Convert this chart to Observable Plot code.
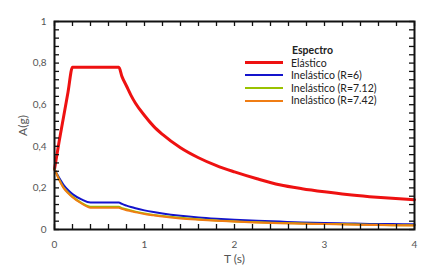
<!DOCTYPE html>
<html>
<head>
<meta charset="utf-8">
<script src="https://cdn.jsdelivr.net/npm/d3@7"></script>
<script src="https://cdn.jsdelivr.net/npm/@observablehq/plot@0.6"></script>
<style>
  body { margin: 0; background: #fff; font-family: Lato, "DejaVu Sans", sans-serif; }
  #wrap { position: relative; width: 431px; height: 274px; }
  #legend { position: absolute; left: 245px; top: 44px; font-size: 10.5px; color: #222; line-height: 12.6px; }
  #legend .title { font-weight: bold; margin-left: 47px; }
  #legend .row { display: flex; align-items: center; }
  #legend .sw { width: 38px; height: 0; margin-right: 8px; }
</style>
</head>
<body>
<div id="wrap"></div>
<script>
const periods = [0, 0.05, 0.1, 0.15, 0.2, 0.3, 0.4, 0.5, 0.6, 0.715, 0.75, 0.8, 0.85, 0.9, 1.0, 1.1, 1.2, 1.4, 1.6, 1.8, 2.0, 2.25, 2.5, 2.75, 3.0, 3.25, 3.5, 3.75, 4.0];
const elastico = [0.29, 0.42, 0.54, 0.66, 0.78, 0.78, 0.78, 0.78, 0.78, 0.78, 0.735, 0.69, 0.645, 0.607, 0.548, 0.497, 0.457, 0.393, 0.345, 0.307, 0.277, 0.244, 0.215, 0.196, 0.181, 0.168, 0.158, 0.15, 0.143];
const inelasticoR6 = [0.29, 0.25, 0.215, 0.19, 0.17, 0.145, 0.13, 0.13, 0.13, 0.13, 0.123, 0.115, 0.108, 0.102, 0.092, 0.084, 0.077, 0.066, 0.058, 0.052, 0.047, 0.042, 0.038, 0.034, 0.031, 0.029, 0.027, 0.026, 0.025];
const inelasticoR712 = [0.29, 0.243, 0.203, 0.178, 0.158, 0.128, 0.109, 0.109, 0.109, 0.109, 0.103, 0.097, 0.091, 0.086, 0.077, 0.07, 0.065, 0.056, 0.049, 0.043, 0.039, 0.035, 0.031, 0.029, 0.027, 0.025, 0.023, 0.021, 0.02];
const inelasticoR742 = [0.29, 0.24, 0.2, 0.175, 0.155, 0.125, 0.105, 0.105, 0.105, 0.105, 0.099, 0.093, 0.088, 0.083, 0.074, 0.068, 0.062, 0.053, 0.047, 0.042, 0.038, 0.034, 0.030, 0.028, 0.026, 0.024, 0.022, 0.02, 0.019];

const seriesNames = ["Elástico", "Inelástico (R=6)", "Inelástico (R=7.12)", "Inelástico (R=7.42)"];
const seriesColors = ["#ee1111", "#1414cc", "#99c200", "#f07d14"];
const seriesWidths = [3, 2, 2, 2];
const seriesValues = [elastico, inelasticoR6, inelasticoR712, inelasticoR742];

const xMajor = [0, 1, 2, 3, 4];
const xMinor = d3.range(0, 4.0001, 0.2);
const yMajor = [0, 0.2, 0.4, 0.6, 0.8, 1];
const yMinor = d3.range(0, 1.0001, 0.04);

const fmt = d => d3.format("~g")(d).replace(".", ",");

const W = 431, H = 274, ML = 54, MR = 17, MT = 21, MB = 45, TICK = 5;
const innerW = W - ML - MR, innerH = H - MT - MB;

const lineMarks = seriesValues.map((vals, i) =>
  Plot.line(periods.map((t, j) => ({T: t, A: vals[j]})), {
    x: "T", y: "A", stroke: seriesColors[i], strokeWidth: seriesWidths[i], strokeLinejoin: "round", curve: "monotone-x"
  })
);

const tickStyle = {stroke: "#111", strokeWidth: 1.3};

const chart = Plot.plot({
  width: W,
  height: H,
  marginLeft: ML,
  marginRight: MR,
  marginTop: MT,
  marginBottom: MB,
  style: {fontFamily: "Lato, 'DejaVu Sans', sans-serif", fontSize: "10px", color: "#444", background: "#fff"},
  x: {domain: [0, 4]},
  y: {domain: [0, 1]},
  marks: [
    ...lineMarks,
    Plot.ruleX(xMinor, {x: d => d, insetTop: innerH - TICK, ...tickStyle}),
    Plot.ruleX(xMinor, {x: d => d, insetBottom: innerH - TICK, ...tickStyle}),
    Plot.ruleY(yMinor, {y: d => d, insetRight: innerW - TICK, ...tickStyle}),
    Plot.ruleY(yMinor, {y: d => d, insetLeft: innerW - TICK, ...tickStyle}),
    Plot.axisX({ticks: xMajor, tickSize: 0, tickPadding: 11, tickFormat: fmt, label: "T (s)", labelAnchor: "center", labelArrow: "none", labelOffset: 33, fill: "#555"}),
    Plot.axisY({ticks: yMajor, tickSize: 0, tickPadding: 8, tickFormat: fmt, label: "A(g)", labelAnchor: "center", labelArrow: "none", labelOffset: 36, fill: "#555"}),
    Plot.frame({stroke: "#111", strokeWidth: 2})
  ]
});
chart.querySelectorAll("g[aria-label='x-axis label'] text, g[aria-label='y-axis label'] text").forEach(t => t.style.fontSize = "12px");
document.getElementById("wrap").appendChild(chart);

const legend = document.createElement("div");
legend.id = "legend";
let html = `<div class="title">Espectro</div>`;
seriesNames.forEach((n, i) => {
  html += `<div class="row"><span class="sw" style="border-top:${seriesWidths[i] + 0.5}px solid ${seriesColors[i]}"></span><span>${n}</span></div>`;
});
legend.innerHTML = html;
document.getElementById("wrap").appendChild(legend);
</script>
</body>
</html>
